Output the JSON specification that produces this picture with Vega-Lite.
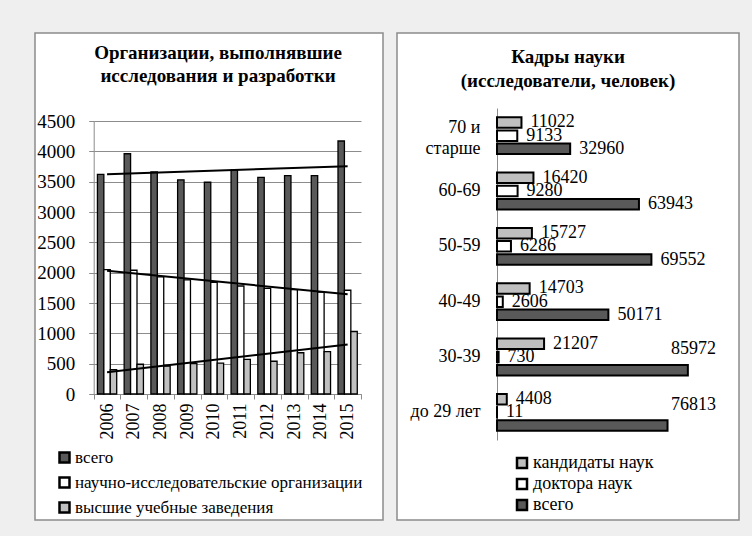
{
  "$schema": "https://vega.github.io/schema/vega-lite/v6.json",
  "background": "#efefef",
  "padding": {"left": 25, "top": 32, "right": 13, "bottom": 17},
  "spacing": 12,
  "resolve": {"scale": {"color": "independent"}, "legend": {"color": "independent"}},
  "config": {
    "font": "Liberation Serif",
    "view": {"fill": "white", "stroke": "#8c8c8c", "strokeWidth": 1.5},
    "axis": {"labelFont": "Liberation Serif", "labelColor": "black", "titleFont": "Liberation Serif", "minExtent": 0},
    "legend": {"labelFont": "Liberation Serif", "labelColor": "black", "labelLimit": 0},
    "title": {"font": "Liberation Serif", "color": "black"}
  },
  "hconcat": [
    {
      "width": 348,
      "height": 487,
      "title": {
        "text": ["Организации, выполнявшие", "исследования и разработки"],
        "fontSize": 19, "fontWeight": "bold", "anchor": "middle", "frame": "group",
        "offset": -53, "dx": 9, "lineHeight": 23
      },
      "data": {"values": [
        {"yr": 2006, "s": "всего", "v": 3620},
        {"yr": 2007, "s": "всего", "v": 3960},
        {"yr": 2008, "s": "всего", "v": 3660},
        {"yr": 2009, "s": "всего", "v": 3530},
        {"yr": 2010, "s": "всего", "v": 3490},
        {"yr": 2011, "s": "всего", "v": 3690},
        {"yr": 2012, "s": "всего", "v": 3570},
        {"yr": 2013, "s": "всего", "v": 3600},
        {"yr": 2014, "s": "всего", "v": 3600},
        {"yr": 2015, "s": "всего", "v": 4170},
        {"yr": 2006, "s": "научно-исследовательские организации", "v": 2050},
        {"yr": 2007, "s": "научно-исследовательские организации", "v": 2040},
        {"yr": 2008, "s": "научно-исследовательские организации", "v": 1930},
        {"yr": 2009, "s": "научно-исследовательские организации", "v": 1880},
        {"yr": 2010, "s": "научно-исследовательские организации", "v": 1840},
        {"yr": 2011, "s": "научно-исследовательские организации", "v": 1780},
        {"yr": 2012, "s": "научно-исследовательские организации", "v": 1740},
        {"yr": 2013, "s": "научно-исследовательские организации", "v": 1720},
        {"yr": 2014, "s": "научно-исследовательские организации", "v": 1680},
        {"yr": 2015, "s": "научно-исследовательские организации", "v": 1710},
        {"yr": 2006, "s": "высшие учебные заведения", "v": 400},
        {"yr": 2007, "s": "высшие учебные заведения", "v": 490},
        {"yr": 2008, "s": "высшие учебные заведения", "v": 460},
        {"yr": 2009, "s": "высшие учебные заведения", "v": 500},
        {"yr": 2010, "s": "высшие учебные заведения", "v": 510},
        {"yr": 2011, "s": "высшие учебные заведения", "v": 570},
        {"yr": 2012, "s": "высшие учебные заведения", "v": 540},
        {"yr": 2013, "s": "высшие учебные заведения", "v": 680},
        {"yr": 2014, "s": "высшие учебные заведения", "v": 700},
        {"yr": 2015, "s": "высшие учебные заведения", "v": 1030}
      ]},
      "layer": [
        {
          "mark": {"type": "bar", "stroke": "black", "strokeWidth": 1.3},
          "encoding": {
            "x": {
              "field": "yr", "type": "ordinal",
              "scale": {"range": [58.7, 326], "paddingInner": 0, "paddingOuter": 0},
              "axis": {"title": null, "labelAngle": 270, "labelFontSize": 18, "offset": -126,
                       "tickBand": "extent", "domainColor": "#8c8c8c", "tickColor": "#8c8c8c",
                       "tickSize": 5, "labelPadding": 4, "grid": false}
            },
            "xOffset": {
              "field": "s", "type": "nominal",
              "sort": ["всего", "научно-исследовательские организации", "высшие учебные заведения"],
              "scale": {"paddingInner": 0, "paddingOuter": 0.58}
            },
            "y": {
              "field": "v", "type": "quantitative",
              "scale": {"domain": [0, 4500], "range": [361, 88], "nice": false},
              "axis": {"title": null, "values": [0, 500, 1000, 1500, 2000, 2500, 3000, 3500, 4000, 4500],
                       "format": "d",
                       "labelFontSize": 19, "offset": -58.7, "grid": true, "gridColor": "#8c8c8c",
                       "domainColor": "#8c8c8c", "tickColor": "#8c8c8c", "tickSize": 5, "labelPadding": 14}
            },
            "color": {
              "field": "s", "type": "nominal",
              "scale": {"domain": ["всего", "научно-исследовательские организации", "высшие учебные заведения"],
                        "range": ["#595959", "#ffffff", "#c0c0c0"]},
              "legend": {"title": null, "orient": "none", "legendX": 21, "legendY": 416, "padding": 0,
                         "labelFontSize": 17, "symbolType": "square", "symbolSize": 100,
                         "symbolStrokeColor": "black", "symbolStrokeWidth": 2.5, "rowPadding": 4, "labelOffset": 2}
            }
          }
        },
        {
          "transform": [{"regression": "v", "on": "yr", "groupby": ["s"]}],
          "mark": {"type": "line", "color": "black", "strokeWidth": 2},
          "encoding": {
            "x": {"field": "yr", "type": "ordinal"},
            "y": {"field": "v", "type": "quantitative"},
            "detail": {"field": "s"}
          }
        }
      ]
    },
    {
      "width": 342,
      "height": 487,
      "title": {
        "text": ["Кадры науки", "(исследователи, человек)"],
        "fontSize": 19, "fontWeight": "bold", "anchor": "middle", "frame": "group",
        "offset": -58, "lineHeight": 24
      },
      "data": {"values": [
        {"cat": "70 и старше", "s": "кандидаты наук", "v": 11022},
        {"cat": "70 и старше", "s": "доктора наук", "v": 9133},
        {"cat": "70 и старше", "s": "всего", "v": 32960},
        {"cat": "60-69", "s": "кандидаты наук", "v": 16420},
        {"cat": "60-69", "s": "доктора наук", "v": 9280},
        {"cat": "60-69", "s": "всего", "v": 63943},
        {"cat": "50-59", "s": "кандидаты наук", "v": 15727},
        {"cat": "50-59", "s": "доктора наук", "v": 6286},
        {"cat": "50-59", "s": "всего", "v": 69552},
        {"cat": "40-49", "s": "кандидаты наук", "v": 14703},
        {"cat": "40-49", "s": "доктора наук", "v": 2606},
        {"cat": "40-49", "s": "всего", "v": 50171},
        {"cat": "30-39", "s": "кандидаты наук", "v": 21207},
        {"cat": "30-39", "s": "доктора наук", "v": 730},
        {"cat": "30-39", "s": "всего", "v": 85972},
        {"cat": "до 29 лет", "s": "кандидаты наук", "v": 4408},
        {"cat": "до 29 лет", "s": "доктора наук", "v": 11},
        {"cat": "до 29 лет", "s": "всего", "v": 76813}
      ]},
      "encoding": {
        "y": {
          "field": "cat", "type": "nominal",
          "sort": ["70 и старше", "60-69", "50-59", "40-49", "30-39", "до 29 лет"],
          "scale": {"range": [75, 407], "paddingInner": 0, "paddingOuter": 0},
          "axis": {"title": null, "offset": -100, "ticks": false, "domainColor": "#8c8c8c",
                   "labelFontSize": 18, "labelPadding": 17, "labelLineHeight": 21,
                   "labelOffset": {"condition": {"test": "datum.value == '70 и старше'", "value": -8}, "value": 0},
                   "labelExpr": "datum.value == '70 и старше' ? ['70 и', 'старше'] : datum.label"}
        },
        "yOffset": {
          "field": "s", "type": "nominal",
          "sort": ["кандидаты наук", "доктора наук", "всего"],
          "scale": {"paddingInner": 0.2, "paddingOuter": 0.7}
        }
      },
      "layer": [
        {
          "mark": {"type": "bar", "stroke": "black", "strokeWidth": 2},
          "encoding": {
            "x": {"field": "v", "type": "quantitative",
                  "scale": {"domain": [0, 100000], "range": [100, 322], "nice": false}, "axis": null},
            "color": {
              "field": "s", "type": "nominal",
              "scale": {"domain": ["кандидаты наук", "доктора наук", "всего"],
                        "range": ["#bfbfbf", "#ffffff", "#595959"]},
              "legend": {"title": null, "orient": "none", "legendX": 116, "legendY": 421, "padding": 0,
                         "labelFontSize": 18, "symbolType": "square", "symbolSize": 100,
                         "symbolStrokeColor": "black", "symbolStrokeWidth": 2.5, "rowPadding": 1, "labelOffset": 2}
            }
          }
        },
        {
          "transform": [{"filter": "datum.v < 75000"}],
          "mark": {"type": "text", "align": "left", "baseline": "middle", "dx": 9, "fontSize": 18},
          "encoding": {
            "x": {"field": "v", "type": "quantitative"},
            "text": {"field": "v", "type": "quantitative", "format": "d"}
          }
        },
        {
          "transform": [{"filter": "datum.v >= 75000"}],
          "mark": {"type": "text", "align": "right", "baseline": "middle", "dx": -3, "dy": -21, "fontSize": 18},
          "encoding": {
            "x": {"datum": 100000, "type": "quantitative"},
            "text": {"field": "v", "type": "quantitative", "format": "d"}
          }
        }
      ]
    }
  ]
}
